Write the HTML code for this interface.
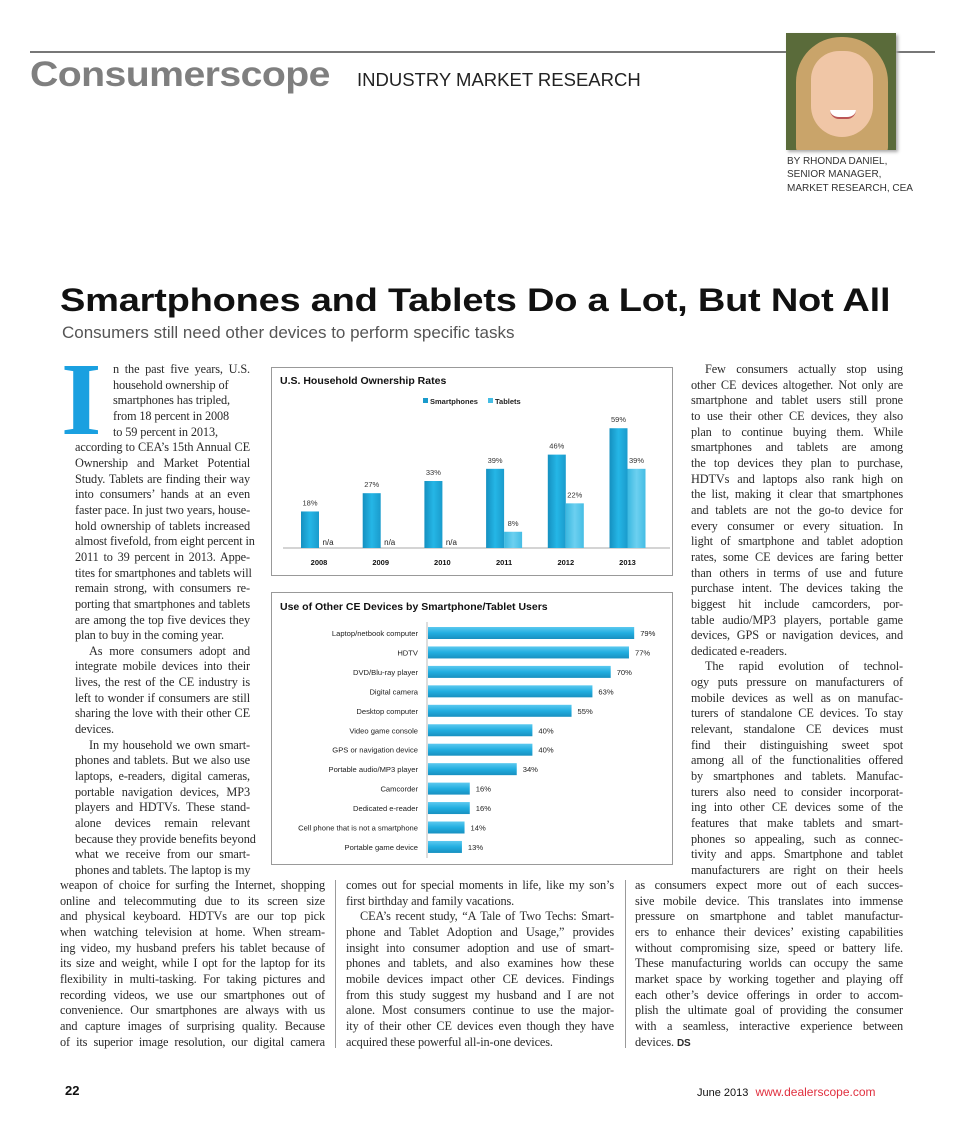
<!DOCTYPE html>
<html><head><meta charset="utf-8">
<style>
body{margin:0;background:#fff;}
#page{position:relative;width:960px;height:1124px;overflow:hidden;background:#fff;font-family:"Liberation Serif",serif;color:#222;}
.abs{position:absolute;}
.col{position:absolute;font-size:12.3px;line-height:15.65px;color:#2a2a2a;letter-spacing:-0.12px;}
.col div{white-space:nowrap;text-align:justify;text-align-last:justify;}
.col div.e{text-align-last:left;}
.col div.i{text-indent:14px;}
.sans{font-family:"Liberation Sans",sans-serif;}
</style></head><body>
<div id="page">

<div class="abs" style="left:30px;top:51px;width:905px;height:2px;background:#777;"></div>
<div class="abs sans" style="left:30px;top:55px;font-size:35px;font-weight:bold;color:#7f7f7f;letter-spacing:-0.5px;transform:scaleX(1.12);transform-origin:left top;">Consumerscope</div>
<div class="abs sans" style="left:357px;top:69px;font-size:18.5px;color:#222;">INDUSTRY MARKET RESEARCH</div>

<div class="abs" style="left:786px;top:33px;width:110px;height:117px;background:#5a6b3a;overflow:hidden;box-shadow:2px 2px 3px #aaa;">
  <div class="abs" style="left:10px;top:4px;width:92px;height:120px;border-radius:45px 45px 10px 10px;background:#c9a46a;"></div>
  <div class="abs" style="left:25px;top:18px;width:62px;height:86px;border-radius:31px 31px 34px 34px;background:#f0c6a6;"></div>
  <div class="abs" style="left:44px;top:77px;width:26px;height:7px;border-radius:0 0 12px 12px;background:#fff;border-bottom:2px solid #b55;"></div>
</div>
<div class="abs sans" style="left:787px;top:155px;font-size:10px;line-height:13.3px;color:#333;">BY RHONDA DANIEL,<br>SENIOR MANAGER,<br>MARKET RESEARCH, CEA</div>

<div class="abs sans" style="left:60px;top:282px;font-size:32.5px;font-weight:bold;color:#111;letter-spacing:-0.2px;transform:scaleX(1.17);transform-origin:left top;white-space:nowrap;">Smartphones and Tablets Do a Lot, But Not All</div>
<div class="abs sans" style="left:62px;top:324px;font-size:16.5px;color:#555;transform:scaleX(1.03);transform-origin:left top;white-space:nowrap;">Consumers still need other devices to perform specific tasks</div>

<div class="abs" style="left:61px;top:348px;font-family:'Liberation Serif',serif;font-weight:bold;font-size:104px;line-height:104px;color:#1aa0e0;">I</div>

<div class="col" style="left:75px;top:362px;width:175px;">
<div style="margin-left:38px">n the past five years, U.S.</div>
<div class="e" style="margin-left:38px">household ownership of</div>
<div class="e" style="margin-left:38px">smartphones has tripled,</div>
<div class="e" style="margin-left:38px">from 18 percent in 2008</div>
<div class="e" style="margin-left:38px">to 59 percent in 2013,</div>
<div>according to CEA’s 15th Annual CE</div>
<div>Ownership and Market Potential</div>
<div>Study. Tablets are finding their way</div>
<div>into consumers’ hands at an even</div>
<div>faster pace. In just two years, house-</div>
<div>hold ownership of tablets increased</div>
<div>almost fivefold, from eight percent in</div>
<div>2011 to 39 percent in 2013. Appe-</div>
<div>tites for smartphones and tablets will</div>
<div>remain strong, with consumers re-</div>
<div>porting that smartphones and tablets</div>
<div>are among the top five devices they</div>
<div class="e">plan to buy in the coming year.</div>
<div class="i">As more consumers adopt and</div>
<div>integrate mobile devices into their</div>
<div>lives, the rest of the CE industry is</div>
<div>left to wonder if consumers are still</div>
<div>sharing the love with their other CE</div>
<div class="e">devices.</div>
<div class="i">In my household we own smart-</div>
<div>phones and tablets. But we also use</div>
<div>laptops, e-readers, digital cameras,</div>
<div>portable navigation devices, MP3</div>
<div>players and HDTVs. These stand-</div>
<div>alone devices remain relevant</div>
<div>because they provide benefits beyond</div>
<div>what we receive from our smart-</div>
<div>phones and tablets. The laptop is my</div>
</div>

<div class="col" style="left:691px;top:362px;width:212px;">
<div class="i">Few consumers actually stop using</div>
<div>other CE devices altogether. Not only are</div>
<div>smartphone and tablet users still prone</div>
<div>to use their other CE devices, they also</div>
<div>plan to continue buying them. While</div>
<div>smartphones and tablets are among</div>
<div>the top devices they plan to purchase,</div>
<div>HDTVs and laptops also rank high on</div>
<div>the list, making it clear that smartphones</div>
<div>and tablets are not the go-to device for</div>
<div>every consumer or every situation. In</div>
<div>light of smartphone and tablet adoption</div>
<div>rates, some CE devices are faring better</div>
<div>than others in terms of use and future</div>
<div>purchase intent. The devices taking the</div>
<div>biggest hit include camcorders, por-</div>
<div>table audio/MP3 players, portable game</div>
<div>devices, GPS or navigation devices, and</div>
<div class="e">dedicated e-readers.</div>
<div class="i">The rapid evolution of technol-</div>
<div>ogy puts pressure on manufacturers of</div>
<div>mobile devices as well as on manufac-</div>
<div>turers of standalone CE devices. To stay</div>
<div>relevant, standalone CE devices must</div>
<div>find their distinguishing sweet spot</div>
<div>among all of the functionalities offered</div>
<div>by smartphones and tablets. Manufac-</div>
<div>turers also need to consider incorporat-</div>
<div>ing into other CE devices some of the</div>
<div>features that make tablets and smart-</div>
<div>phones so appealing, such as connec-</div>
<div>tivity and apps. Smartphone and tablet</div>
<div>manufacturers are right on their heels</div>
</div>

<div class="col" style="left:60px;top:878px;width:265px;">
<div>weapon of choice for surfing the Internet, shopping</div>
<div>online and telecommuting due to its screen size</div>
<div>and physical keyboard. HDTVs are our top pick</div>
<div>when watching television at home. When stream-</div>
<div>ing video, my husband prefers his tablet because of</div>
<div>its size and weight, while I opt for the laptop for its</div>
<div>flexibility in multi-tasking. For taking pictures and</div>
<div>recording videos, we use our smartphones out of</div>
<div>convenience. Our smartphones are always with us</div>
<div>and capture images of surprising quality. Because</div>
<div>of its superior image resolution, our digital camera</div>
</div>
<div class="abs" style="left:335px;top:880px;width:1px;height:168px;background:#999;"></div>
<div class="col" style="left:346px;top:878px;width:268px;">
<div>comes out for special moments in life, like my son’s</div>
<div class="e">first birthday and family vacations.</div>
<div class="i">CEA’s recent study, “A Tale of Two Techs: Smart-</div>
<div>phone and Tablet Adoption and Usage,” provides</div>
<div>insight into consumer adoption and use of smart-</div>
<div>phones and tablets, and also examines how these</div>
<div>mobile devices impact other CE devices. Findings</div>
<div>from this study suggest my husband and I are not</div>
<div>alone. Most consumers continue to use the major-</div>
<div>ity of their other CE devices even though they have</div>
<div class="e">acquired these powerful all-in-one devices.</div>
</div>
<div class="abs" style="left:625px;top:880px;width:1px;height:168px;background:#999;"></div>
<div class="col" style="left:635px;top:878px;width:268px;">
<div>as consumers expect more out of each succes-</div>
<div>sive mobile device. This translates into immense</div>
<div>pressure on smartphone and tablet manufactur-</div>
<div>ers to enhance their devices’ existing capabilities</div>
<div>without compromising size, speed or battery life.</div>
<div>These manufacturing worlds can occupy the same</div>
<div>market space by working together and playing off</div>
<div>each other’s device offerings in order to accom-</div>
<div>plish the ultimate goal of providing the consumer</div>
<div>with a seamless, interactive experience between</div>
<div class="e">devices. <b class="sans" style="font-size:10px">DS</b></div>
</div>

<div class="abs sans" style="left:65px;top:1083px;font-size:13px;font-weight:bold;color:#111;">22</div>
<div class="abs sans" style="left:697px;top:1085px;font-size:11px;color:#111;">June 2013 <span style="color:#e0303f;font-size:12px;margin-left:4px">www.dealerscope.com</span></div>

<svg class="abs" id="chart1" style="left:0;top:0" width="960" height="1124" pointer-events="none"></svg>

<script>
const years = ["2008","2009","2010","2011","2012","2013"];
const smartphones = [18,27,33,39,46,59];
const tablets = [null,null,null,8,22,39];
const devices = ["Laptop/netbook computer","HDTV","DVD/Blu-ray player","Digital camera","Desktop computer","Video game console","GPS or navigation device","Portable audio/MP3 player","Camcorder","Dedicated e-reader","Cell phone that is not a smartphone","Portable game device"];
const deviceUse = [79,77,70,63,55,40,40,34,16,16,14,13];

const NS="http://www.w3.org/2000/svg";
const svg=document.getElementById('chart1');
function mk(tag,attrs,parent,text){const e=document.createElementNS(NS,tag);for(const k in attrs)e.setAttribute(k,attrs[k]);if(text!==undefined)e.textContent=text;(parent||svg).appendChild(e);return e;}
const defs=mk('defs',{});
defs.innerHTML='<linearGradient id="gs" x1="0" x2="1"><stop offset="0" stop-color="#1590c0"/><stop offset="0.5" stop-color="#25b6e6"/><stop offset="1" stop-color="#1a9bcc"/></linearGradient><linearGradient id="gt" x1="0" x2="1"><stop offset="0" stop-color="#3ab8e0"/><stop offset="0.5" stop-color="#6cd0f0"/><stop offset="1" stop-color="#45bde4"/></linearGradient><linearGradient id="gh" x1="0" y1="0" x2="0" y2="1"><stop offset="0" stop-color="#5cc9ef"/><stop offset="0.5" stop-color="#21aee0"/><stop offset="1" stop-color="#1890c0"/></linearGradient>';

const F="Liberation Sans, sans-serif";
let r=mk('rect',{x:271.5,y:367.5,width:401,height:208,fill:'#fff',stroke:'#999'});

let t=mk('text',{x:280,y:384,'font-family':F,'font-size':10.5,'font-weight':'bold',fill:'#111'},svg,'U.S. Household Ownership Rates');

let g=mk('g',{});
mk('rect',{x:423,y:398,width:5,height:5,fill:'#1a9bcc'},g);
mk('text',{x:430,y:404,'font-family':F,'font-size':7.5,'font-weight':'bold',fill:'#222'},g,'Smartphones');
mk('rect',{x:488,y:398,width:5,height:5,fill:'#45bde4'},g);
mk('text',{x:495,y:404,'font-family':F,'font-size':7.5,'font-weight':'bold',fill:'#222'},g,'Tablets');
const base1=548, k1=2.03, x0=301, step=61.7, bw=18;
const y1=v=>base1-v*k1;
let ax=mk('line',{x1:283,x2:670,y1:base1,y2:base1,stroke:'#aaa'});

years.forEach((yr,i)=>{
  const sx=x0+step*i;
  const b=mk('rect',{x:sx,y:y1(smartphones[i]),width:bw,height:base1-y1(smartphones[i]),fill:'url(#gs)'});
  
  
  mk('text',{x:sx+bw/2,y:y1(smartphones[i])-6,'text-anchor':'middle','font-family':F,'font-size':7.5,fill:'#333'},svg,smartphones[i]+'%');
  const tx=sx+bw;
  if(tablets[i]==null){
    mk('text',{x:tx+bw/2,y:base1-3,'text-anchor':'middle','font-family':F,'font-size':8,fill:'#222'},svg,'n/a');
  } else {
    const tb=mk('rect',{x:tx,y:y1(tablets[i]),width:bw,height:base1-y1(tablets[i]),fill:'url(#gt)'});
    
    
    mk('text',{x:tx+bw/2,y:y1(tablets[i])-6,'text-anchor':'middle','font-family':F,'font-size':7.5,fill:'#333'},svg,tablets[i]+'%');
  }
  const yl=mk('text',{x:sx+bw,y:565,'text-anchor':'middle','font-family':F,'font-size':7.5,'font-weight':'bold',fill:'#111'},svg,yr);
  
  
});

let r2=mk('rect',{x:271.5,y:592.5,width:401,height:272,fill:'#fff',stroke:'#999'});

let t2=mk('text',{x:280,y:610,'font-family':F,'font-size':10.5,'font-weight':'bold',fill:'#111'},svg,'Use of Other CE Devices by Smartphone/Tablet Users');

const bx0=428, k2=2.61, ry0=633, rstep=19.45, bh=12;
const xv=v=>bx0+v*k2;
let ax2=mk('line',{x1:427,x2:427,y1:622,y2:858,stroke:'#bbb'});

devices.forEach((d,i)=>{
  const cy=ry0+rstep*i;
  const b=mk('rect',{x:bx0,y:cy-bh/2,width:xv(deviceUse[i])-bx0,height:bh,fill:'url(#gh)'});
  
  
  const l=mk('text',{x:418,y:cy+3,'text-anchor':'end','font-family':F,'font-size':7.6,fill:'#222'},svg,d);
  
  
  mk('text',{x:xv(deviceUse[i])+6,y:cy+3,'font-family':F,'font-size':7.6,fill:'#222'},svg,deviceUse[i]+'%');
});
</script>
</div>
</body></html>
